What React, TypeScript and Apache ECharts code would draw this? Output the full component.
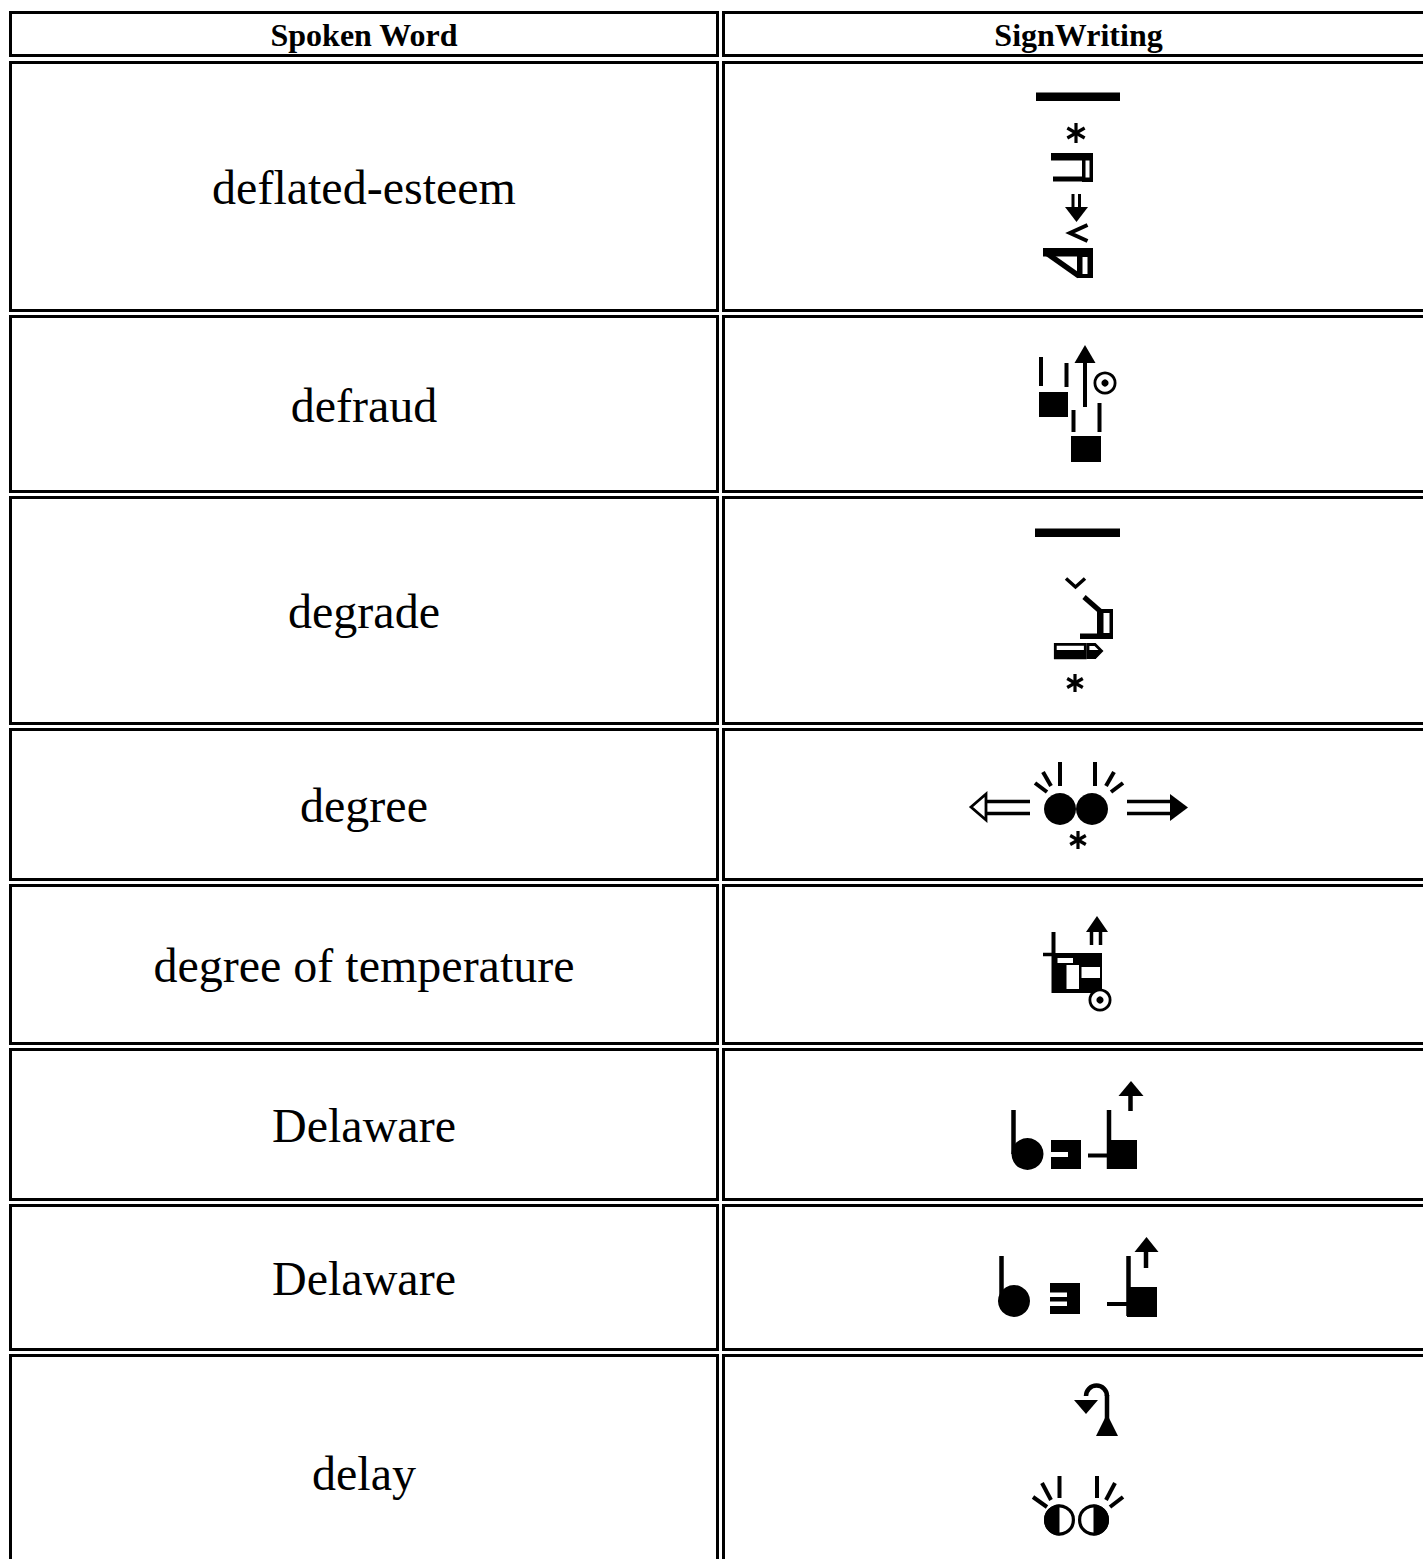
import React, { useEffect, useRef } from "react";
import * as echarts from "echarts";

// ---- table content ----
const headers = ["Spoken Word", "SignWriting"];
const words = [
  "deflated-esteem",
  "defraud",
  "degrade",
  "degree",
  "degree of temperature",
  "Delaware",
  "Delaware",
  "delay",
];
// outer edges of each row (header first)
const rowTops = [11, 61, 315, 496, 728, 884, 1048, 1204, 1354];
const rowBottoms = [57, 312, 493, 725, 881, 1045, 1201, 1351, 1590];
const colLefts = [9, 722];
const colRights = [719, 1435];

const K = "#000";
const W = "#fff";

const rect = (x: number, y: number, w: number, h: number, fill: string = K) => ({
  type: "rect",
  shape: { x, y, width: w, height: h },
  style: { fill },
});
const line = (x1: number, y1: number, x2: number, y2: number, lw = 3) => ({
  type: "line",
  shape: { x1, y1, x2, y2 },
  style: { stroke: K, lineWidth: lw },
});
const poly = (pts: number[][], fill: string = K, stroke?: string, lw?: number) => ({
  type: "polygon",
  shape: { points: pts },
  style: stroke ? { fill, stroke, lineWidth: lw, lineJoin: "miter" } : { fill },
});
const pline = (pts: number[][], lw = 3) => ({
  type: "polyline",
  shape: { points: pts },
  style: { stroke: K, lineWidth: lw, fill: null },
});
const circ = (cx: number, cy: number, r: number, fill: string = K, stroke?: string, lw?: number) => ({
  type: "circle",
  shape: { cx, cy, r },
  style: stroke ? { fill, stroke, lineWidth: lw } : { fill },
});
const star = (cx: number, cy: number, r: number, lw = 3.2) => {
  const dx = r * 0.866;
  const dy = r * 0.5;
  return [
    line(cx, cy - r, cx, cy + r, lw),
    line(cx - dx, cy - dy, cx + dx, cy + dy, lw),
    line(cx + dx, cy - dy, cx - dx, cy + dy, lw),
  ];
};
const target = (cx: number, cy: number, r: number) => [
  circ(cx, cy, r - 1.4, W, K, 2.8),
  circ(cx, cy, 3.6, K),
];
const halfEye = (cx: number, cy: number, r: number, leftBlack: boolean) => [
  circ(cx, cy, r - 1.6, W, K, 3.2),
  {
    type: "sector",
    shape: {
      cx,
      cy,
      r,
      r0: 0,
      startAngle: leftBlack ? Math.PI / 2 : -Math.PI / 2,
      endAngle: leftBlack ? (3 * Math.PI) / 2 : Math.PI / 2,
      clockwise: true,
    },
    style: { fill: K },
  },
];

// ---- SignWriting glyph drawings ----
const glyphs: any[][] = [
  // deflated-esteem
  [
    rect(1036, 92.5, 84, 8.5),
    ...star(1076, 133, 10),
    rect(1051, 153, 32, 7.5),
    rect(1053, 176.5, 30, 5),
    rect(1082, 153, 11, 29),
    rect(1085.5, 160.5, 4, 17, W),
    line(1073, 194, 1073, 210, 3),
    line(1079.5, 194, 1079.5, 210, 3),
    poly([[1065, 207], [1088, 207], [1076.5, 222]]),
    pline([[1087.5, 225], [1070, 233], [1087.5, 241]], 4),
    rect(1043, 248, 40, 8.5),
    line(1045, 252, 1079, 276, 5.5),
    rect(1077, 248, 16, 30),
    rect(1082.5, 257, 5, 17, W),
  ],
  // defraud
  [
    line(1041, 357, 1041, 386, 4),
    line(1066.5, 363, 1066.5, 387, 4),
    rect(1039, 392, 29, 25),
    line(1085, 360, 1085, 407, 4),
    poly([[1085, 345], [1074.5, 363], [1095.5, 363]]),
    ...target(1105, 383, 11.5),
    line(1073.5, 410, 1073.5, 432, 4),
    line(1099.5, 403, 1099.5, 432, 4),
    rect(1071, 436, 30, 26),
  ],
  // degrade
  [
    rect(1035, 528.5, 85, 8.5),
    pline([[1066, 578.5], [1075.5, 587], [1085, 578.5]], 3.5),
    line(1084, 597, 1100, 611, 5),
    rect(1097, 609, 16, 30),
    rect(1103.5, 613, 6, 20, W),
    rect(1080, 633.5, 20, 5.5),
    { type: "rect", shape: { x: 1055.3, y: 644.3, width: 30, height: 13.5 }, style: { fill: W, stroke: K, lineWidth: 2.8 } },
    rect(1054, 650, 32, 9),
    poly([[1088, 644.5], [1095, 644.5], [1101.5, 651], [1095, 657.5], [1088, 657.5]], W, K, 2.8),
    poly([[1087, 650], [1102.5, 650], [1095.5, 659], [1087, 659]]),
    ...star(1075, 683, 9),
  ],
  // degree
  [
    poly([[971, 807], [986, 794], [986, 820]], W, K, 2.8),
    line(986, 801.5, 1030, 801.5, 3.5),
    line(986, 813.5, 1030, 813.5, 3.5),
    circ(1060, 809, 16),
    circ(1092, 809, 16),
    line(1060, 762, 1060, 786, 4),
    line(1043, 772, 1051, 786, 4),
    line(1035, 783, 1047, 792, 4),
    line(1095, 762, 1095, 786, 4),
    line(1114, 772, 1106, 786, 4),
    line(1123, 783, 1111, 792, 4),
    line(1127, 801.5, 1172, 801.5, 3.5),
    line(1127, 813.5, 1172, 813.5, 3.5),
    poly([[1188, 807.5], [1170, 794], [1170, 821]]),
    ...star(1078, 840, 9),
  ],
  // degree of temperature
  [
    line(1053.5, 932, 1053.5, 993, 4),
    line(1043, 954.5, 1055, 954.5, 3.5),
    rect(1053, 953, 49, 40),
    rect(1057.5, 958, 15.5, 5, W),
    rect(1066.5, 965, 12.5, 24, W),
    rect(1081.5, 967, 18.5, 11, W),
    poly([[1097, 916], [1086, 932], [1108, 932]]),
    line(1091.5, 931, 1091.5, 945, 3.5),
    line(1100.5, 931, 1100.5, 945, 3.5),
    ...target(1100, 1000, 11.5),
  ],
  // Delaware (1)
  [
    line(1013.5, 1110, 1013.5, 1154, 4.5),
    circ(1027.5, 1154, 16),
    rect(1051, 1140, 30, 29),
    rect(1051, 1152, 17, 5, W),
    line(1088, 1155.5, 1109, 1155.5, 4),
    line(1109, 1110, 1109, 1169, 4.5),
    rect(1108, 1140, 29, 29),
    line(1130.5, 1094, 1130.5, 1111, 4.5),
    poly([[1131, 1081], [1118.5, 1096], [1143.5, 1096]]),
  ],
  // Delaware (2)
  [
    line(1001.5, 1256, 1001.5, 1300, 4.5),
    circ(1014, 1301, 16),
    rect(1050, 1283, 30, 31),
    rect(1050, 1292.5, 17, 4.5, W),
    rect(1050, 1301.5, 17, 4.5, W),
    line(1107, 1304, 1129, 1304, 4),
    line(1128.5, 1256, 1128.5, 1316, 4.5),
    rect(1127, 1287, 30, 30),
    line(1146, 1251, 1146, 1268, 4.5),
    poly([[1146.5, 1237], [1134.5, 1252], [1158.5, 1252]]),
  ],
  // delay
  [
    poly([[1074, 1400], [1098, 1400], [1086, 1414]]),
    {
      type: "arc",
      shape: { cx: 1096.5, cy: 1396, r: 10.5, startAngle: Math.PI, endAngle: Math.PI * 2, clockwise: true },
      style: { stroke: K, lineWidth: 4.5, fill: null },
    },
    line(1107, 1395, 1107, 1422, 4.5),
    poly([[1107, 1414], [1096, 1436], [1118, 1436]]),
    ...halfEye(1059.5, 1520, 15.5, true),
    ...halfEye(1093.5, 1520, 15.5, false),
    line(1059.5, 1476, 1059.5, 1498, 4),
    line(1042, 1483, 1051, 1500, 4),
    line(1033, 1497, 1047, 1507, 4),
    line(1097, 1476, 1097, 1498, 4),
    line(1115, 1483, 1106, 1500, 4),
    line(1123, 1497, 1110, 1507, 4),
  ],
];

function buildElements() {
  const els: any[] = [];
  const bw = 3;
  for (let r = 0; r < rowTops.length; r++) {
    const t = rowTops[r];
    const b = rowBottoms[r];
    for (let c = 0; c < 2; c++) {
      const l = colLefts[c];
      const rr = colRights[c];
      els.push({
        type: "rect",
        shape: { x: l + bw / 2, y: t + bw / 2, width: rr - l - bw, height: b - t - bw },
        style: { fill: W, stroke: K, lineWidth: bw },
      });
    }
    const cy = (t + b) / 2;
    if (r === 0) {
      headers.forEach((h, c) => {
        els.push({
          type: "text",
          x: (colLefts[c] + colRights[c]) / 2,
          y: cy + 1,
          style: {
            text: h,
            font: 'bold 32px "Liberation Serif"',
            fill: K,
            align: "center",
            verticalAlign: "middle",
          },
        });
      });
    } else {
      els.push({
        type: "text",
        x: (colLefts[0] + colRights[0]) / 2,
        y: cy + 1,
        style: {
          text: words[r - 1],
          font: '48px "Liberation Serif"',
          fill: K,
          align: "center",
          verticalAlign: "middle",
        },
      });
      els.push(...glyphs[r - 1]);
    }
  }
  return els;
}

export default function App() {
  const ref = useRef<HTMLDivElement>(null);
  useEffect(() => {
    document.body.style.margin = "0";
    document.body.style.overflow = "hidden";
    const chart = echarts.init(ref.current!, null, { renderer: "svg" });
    chart.setOption({
      animation: false,
      backgroundColor: "#fff",
      graphic: { elements: buildElements() },
    });
    return () => chart.dispose();
  }, []);
  return <div ref={ref} style={{ width: 1423, height: 1559 }} />;
}
